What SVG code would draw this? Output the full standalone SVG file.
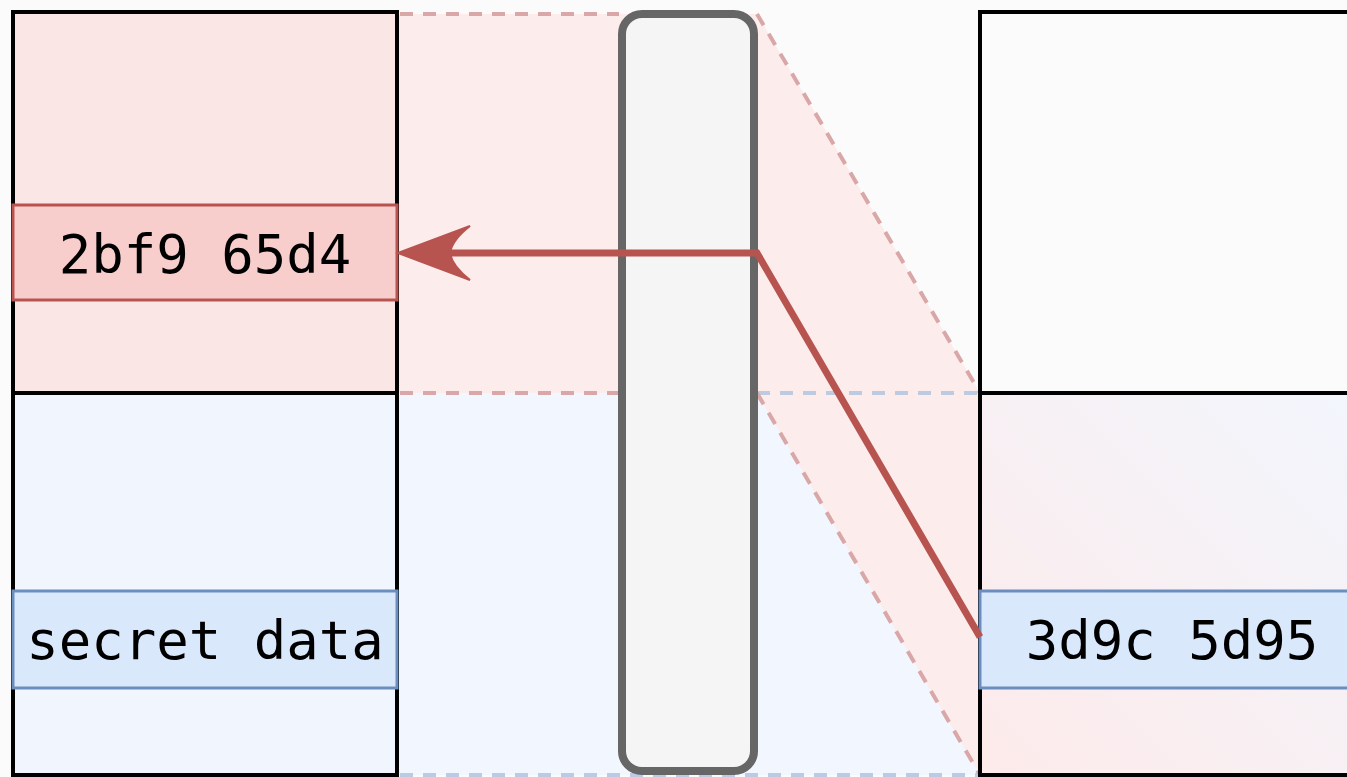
<svg xmlns="http://www.w3.org/2000/svg" width="1347" height="777" viewBox="0 0 1347 777">
<style>
.col{stroke:#000;stroke-width:4}
.cellr{fill:#f8cecc;stroke:#b85450;stroke-width:3}
.cellb{fill:#dae8fc;stroke:#6c8ebf;stroke-width:3}
.txt{font-family:"DejaVu Sans Mono","Liberation Mono",monospace;font-size:54px;fill:#000;text-anchor:middle}
.dr{fill:none;stroke:#d9a7a7;stroke-width:4;stroke-dasharray:13 10}
.db{fill:none;stroke:#bccbe2;stroke-width:4;stroke-dasharray:13 10}
.conn{fill:none;stroke:#b85450;stroke-width:7}
</style>
<defs>
<linearGradient id="rg" x1="1" y1="0" x2="0" y2="1">
<stop offset="0" stop-color="#f2f6fd"/>
<stop offset="1" stop-color="#fdeaea"/>
</linearGradient>
</defs>
<rect width="1347" height="777" fill="#fbfbfb"/>
<g id="bands">
<rect x="397" y="393" width="583" height="382" fill="#f2f6fe"/>
<polygon points="397,14 757,14 980,393 980,775 757,393 397,393" fill="#fcecec"/>
<line class="db" x1="757" y1="393" x2="980" y2="393"/>
<line class="db" x1="400" y1="775" x2="980" y2="775"/>
<line class="dr" x1="400" y1="14" x2="619" y2="14"/>
<line class="dr" x1="400" y1="393" x2="619" y2="393"/>
<line class="dr" x1="757" y1="14" x2="980" y2="393"/>
<line class="dr" x1="757" y1="393" x2="980" y2="775"/>
</g>
<g id="left-column">
<rect x="13" y="12" width="384" height="381" fill="#fbe6e6"/>
<rect x="13" y="393" width="384" height="382" fill="#f1f6fe"/>
<rect class="col" x="13" y="12" width="384" height="763" fill="none"/>
<line class="col" x1="13" y1="393" x2="397" y2="393"/>
</g>
<g id="right-column">
<rect x="980" y="12" width="384" height="381" fill="#fbfbfb"/>
<rect x="980" y="393" width="384" height="382" fill="url(#rg)"/>
<rect class="col" x="980" y="12" width="384" height="763" fill="none"/>
<line class="col" x1="980" y1="393" x2="1364" y2="393"/>
</g>
<g id="bus">
<rect x="622" y="14" width="132" height="757" rx="20" ry="20" fill="#f5f5f5" stroke="#666666" stroke-width="8"/>
</g>
<g id="node-2bf9">
<rect class="cellr" x="13" y="205" width="384" height="95"/>
<text class="txt" x="205" y="273">2bf9 65d4</text>
</g>
<g id="node-secret">
<rect class="cellb" x="13" y="591" width="384" height="97"/>
<text class="txt" x="205" y="659">secret data</text>
</g>
<g id="node-3d9c">
<rect class="cellb" x="980" y="591" width="384" height="97"/>
<text class="txt" x="1172" y="659">3d9c 5d95</text>
</g>
<g id="connectors">
<polyline class="conn" points="980,637 757,253 445,253" stroke-linejoin="miter"/>
<path d="M398,253 L470,226 Q452,240 450,253 Q452,266 470,280 Z" fill="#b85450" stroke="#b85450" stroke-width="2" stroke-linejoin="miter"/>
</g>
</svg>
